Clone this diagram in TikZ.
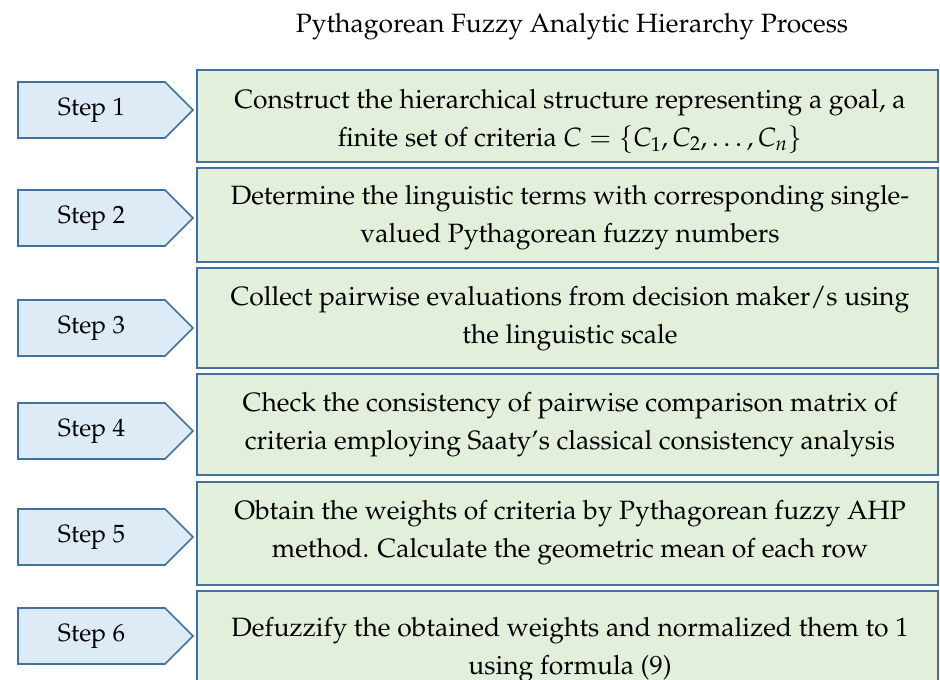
\documentclass[tikz,border=0pt]{standalone}
\usepackage[T1]{fontenc}
\usepackage{mathpazo}
\usetikzlibrary{shapes.symbols}
\definecolor{stepblue}{RGB}{221,235,247}
\definecolor{edgeblue}{RGB}{65,113,156}
\definecolor{boxgreen}{RGB}{226,239,218}

\begin{document}
\begin{tikzpicture}[
        x=1pt, y=-1pt,
        stepnode/.style={signal, signal to=east, draw=edgeblue, fill=stepblue, line width=1.6pt,
            minimum width=175pt, minimum height=56pt, inner sep=0pt, font=\fontsize{25}{30}\selectfont},
        task/.style={rectangle, draw=edgeblue, fill=boxgreen, line width=1.6pt, minimum width=741pt, inner sep=0pt},
        tasktext/.style={align=center, inner sep=0pt, font=\fontsize{26.5}{38}\selectfont},
    ]
    \useasboundingbox (0,0) rectangle (940,680);
    \clip (0,0) rectangle (940,680);

    \node[font=\fontsize{26.5}{30}\selectfont](title) at (572,27) {Pythagorean Fuzzy Analytic Hierarchy Process};

    % green boxes
    \node[task, minimum height=92pt](b1) at (567.5,116) {};
    \node[task, minimum height=94pt](b2) at (567.5,215) {};
    \node[task, minimum height=100pt](b3) at (567.5,318) {};
    \node[task, minimum height=101pt](b4) at (567.5,424.5) {};
    \node[task, minimum height=103pt](b5) at (567.5,533.5) {};
    \node[task, minimum height=109pt](b6) at (567.5,645.5) {};

    \node[tasktext](t1) at (570,121) {Construct the hierarchical structure representing a goal, a\\finite set of criteria $C=\{C_1,C_2,\dots,C_n\}$};
    \node[tasktext](t2) at (570,218) {Determine the linguistic terms with corresponding single-\\valued Pythagorean fuzzy numbers};
    \node[tasktext](t3) at (570,318.5) {Collect pairwise evaluations from decision maker/s using\\the linguistic scale};
    \node[tasktext](t4) at (570,425) {Check the consistency of pairwise comparison matrix of\\criteria employing Saaty's classical consistency analysis};
    \node[tasktext](t5) at (570,532.5) {Obtain the weights of criteria by Pythagorean fuzzy AHP\\method. Calculate the geometric mean of each row};
    \node[tasktext](t6) at (570,650) {Defuzzify the obtained weights and normalized them to 1\\using formula (9)};

    % step arrows
    \node[stepnode](s1) at (91.5,110) {Step 1};
    \node[stepnode](s2) at (91.5,218) {Step 2};
    \node[stepnode](s3) at (91.5,328) {Step 3};
    \node[stepnode](s4) at (91.5,431) {Step 4};
    \node[stepnode](s5) at (91.5,537) {Step 5};
    \node[stepnode](s6) at (91.5,636) {Step 6};
\end{tikzpicture}
\end{document}
